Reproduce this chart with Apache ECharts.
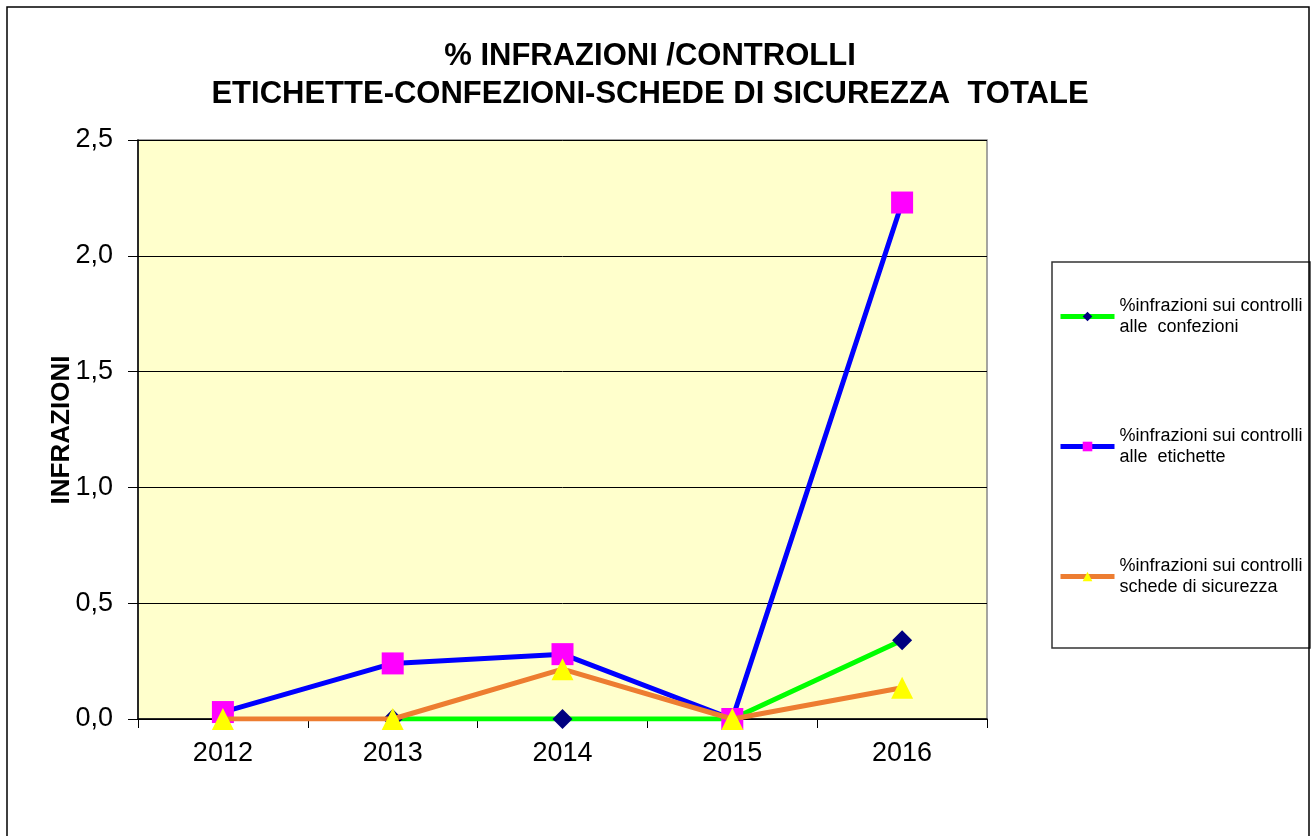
<!DOCTYPE html>
<html>
<head>
<meta charset="utf-8">
<script src="https://cdn.jsdelivr.net/npm/echarts@6/dist/echarts.min.js"></script>
<style>
  html, body { margin: 0; padding: 0; background: #fff; }
  #chart { width: 1313px; height: 836px; }
</style>
</head>
<body>
<div id="chart"></div>
<script>
var years = ['2012', '2013', '2014', '2015', '2016']
var yTicks = [0, 0.5, 1, 1.5, 2, 2.5]

// % infrazioni sui controlli
var confezioni = [null, 0, 0, 0, 0.34]
var etichette = [0.03, 0.24, 0.28, 0, 2.23]
var schede = [0, 0, 0.215, 0, 0.135]

var legendNames = [
  '%infrazioni sui controlli\nalle  confezioni',
  '%infrazioni sui controlli\nalle  etichette',
  '%infrazioni sui controlli\nschede di sicurezza'
]

var chart = echarts.init(document.getElementById('chart'))

chart.setOption({
  backgroundColor: '#fff',
  animation: false,
  title: {
    text: '% INFRAZIONI /CONTROLLI\nETICHETTE-CONFEZIONI-SCHEDE DI SICUREZZA  TOTALE',
    left: 645,
    textAlign: 'center',
    top: 32,
    textStyle: {
      fontFamily: 'Liberation Sans, Arial',
      fontSize: 31,
      fontWeight: 'bold',
      color: '#000',
      lineHeight: 38
    }
  },
  graphic: [
    {
      type: 'rect',
      shape: { x: 7, y: 7, width: 1302, height: 840 },
      style: { fill: 'none', stroke: '#000', lineWidth: 1.5 },
      silent: true
    },
    {
      type: 'rect',
      shape: { x: 1052, y: 262, width: 258, height: 386 },
      style: { fill: '#fff', stroke: '#333', lineWidth: 1.5 },
      silent: true,
      z: -1
    },
    {
      // y axis title, drawn apart so it can sit close to the tick labels
      type: 'text',
      x: 62,
      y: 430,
      rotation: Math.PI / 2,
      style: {
        text: 'INFRAZIONI',
        fontFamily: 'Liberation Sans, Arial',
        fontSize: 26,
        fontWeight: 'bold',
        fill: '#000',
        align: 'center',
        verticalAlign: 'middle'
      },
      silent: true,
      z: 10
    }
  ],
  legend: {
    orient: 'vertical',
    left: 1058,
    top: 285,
    padding: 0,
    itemWidth: 54,
    itemHeight: 12,
    itemGap: 67,
    itemTextGap: 6,
    data: legendNames,
    lineStyle: { width: 5 },
    textStyle: {
      fontFamily: 'Liberation Sans, Arial',
      fontSize: 18,
      color: '#000',
      lineHeight: 21,
      padding: [21, 0, 0, 0]
    }
  },
  grid: {
    left: 138,
    top: 140,
    width: 849,
    height: 579,
    show: true,
    backgroundColor: '#FFFFCC',
    borderColor: '#888',
    borderWidth: 1.5
  },
  xAxis: {
    type: 'category',
    data: years,
    boundaryGap: true,
    axisLine: { lineStyle: { color: '#000', width: 1.5 } },
    axisTick: { show: true, length: 9, lineStyle: { color: '#000' } },
    axisLabel: {
      fontFamily: 'Liberation Sans, Arial',
      fontSize: 27,
      color: '#000',
      margin: 21
    }
  },
  yAxis: {
    type: 'value',
    min: yTicks[0],
    max: yTicks[yTicks.length - 1],
    interval: 0.5,
    axisLine: { show: true, lineStyle: { color: '#000', width: 1.5 } },
    axisTick: { show: true, length: 10, lineStyle: { color: '#000' } },
    splitLine: { lineStyle: { color: '#000', width: 1 } },
    axisLabel: {
      fontFamily: 'Liberation Sans, Arial',
      fontSize: 27,
      color: '#000',
      margin: 25,
      formatter: function (v) { return v.toFixed(1).replace('.', ',') }
    }
  },
  series: [
    {
      name: legendNames[0],
      type: 'line',
      data: confezioni,
      symbol: 'diamond',
      symbolSize: 20,
      lineStyle: { color: '#00FF00', width: 5 },
      itemStyle: { color: '#000080' },
      z: 2
    },
    {
      name: legendNames[1],
      type: 'line',
      data: etichette,
      symbol: 'rect',
      symbolSize: 22,
      lineStyle: { color: '#0000FF', width: 5 },
      itemStyle: { color: '#FF00FF' },
      z: 3
    },
    {
      name: legendNames[2],
      type: 'line',
      data: schede,
      symbol: 'triangle',
      symbolSize: 22,
      lineStyle: { color: '#ED7D31', width: 5 },
      itemStyle: { color: '#FFFF00' },
      z: 4
    }
  ]
})
</script>
</body>
</html>
